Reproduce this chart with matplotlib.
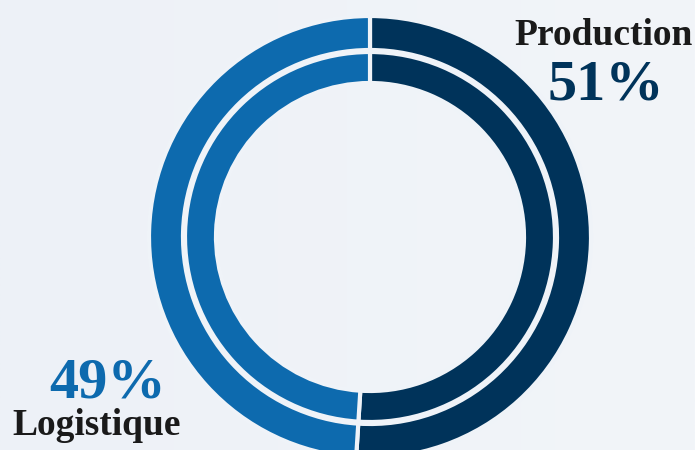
import matplotlib.pyplot as plt
import numpy as np

# two rings, same split
labels = ['Production', 'Logistique']
shares = [51, 49]
colors = ['#00335a', '#0d6aae']
bg = '#eff3f8'

W, H = 695, 450
fig = plt.figure(figsize=(W / 100, H / 100), dpi=100)
fig.patch.set_facecolor(bg)
ax = fig.add_axes([0, 0, 1, 1])
ax.set_facecolor(bg)

# very soft background gradient
grad = np.linspace(0, 1, 256).reshape(1, -1)
ax.imshow(grad, extent=[0, W, 0, H], cmap=plt.matplotlib.colors.LinearSegmentedColormap.from_list('g', ['#edf1f7', '#f2f5f9']),
          aspect='auto', zorder=0)

cx, cy = 370, 213
# outer ring
ax.pie(shares, colors=colors, startangle=90, counterclock=False, center=(cx, cy), radius=221,
       wedgeprops=dict(width=34, edgecolor=bg, linewidth=3), frame=True)
# inner ring
ax.pie(shares, colors=colors, startangle=90, counterclock=False, center=(cx, cy), radius=185,
       wedgeprops=dict(width=31, edgecolor=bg, linewidth=3), frame=True)

ax.set_xlim(0, W)
ax.set_ylim(0, H)
ax.set_aspect('equal')
ax.axis('off')

font = 'Liberation Serif'
ax.text(604, H - 45, labels[0], ha='center', va='baseline', fontsize=27, fontweight='bold',
        family=font, color='#1a1a1a')
ax.text(606, H - 100, f'{shares[0]}%', ha='center', va='baseline', fontsize=42, fontweight='bold',
        family=font, color=colors[0])
ax.text(108, H - 398, f'{shares[1]}%', ha='center', va='baseline', fontsize=42, fontweight='bold',
        family=font, color=colors[1])
ax.text(97, H - 435, labels[1], ha='center', va='baseline', fontsize=27, fontweight='bold',
        family=font, color='#1a1a1a')

fig.savefig('out.png', dpi=100, facecolor=bg)
